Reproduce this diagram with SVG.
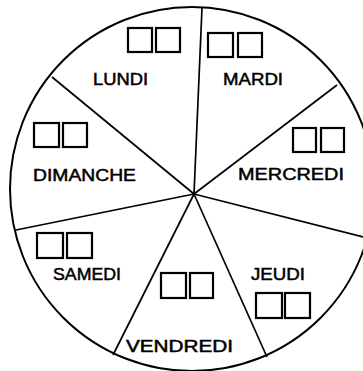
<svg xmlns="http://www.w3.org/2000/svg" width="363" height="371" viewBox="0 0 363 371">
<style>
.rim{fill:none;stroke:#000;stroke-width:2}
.spoke{stroke:#000;stroke-width:1.7;fill:none}
.box{fill:none;stroke:#000;stroke-width:2.2}
.lbl{font-family:"Liberation Sans","DejaVu Sans",sans-serif;font-size:17px;fill:#000;stroke:#000;stroke-width:0.5}
</style>
<rect width="363" height="371" fill="#fff"/>
<g id="connectors">
<circle class="rim" cx="192" cy="189" r="182"/>
<line class="spoke" x1="194" y1="194" x2="202" y2="8"/>
<line class="spoke" x1="194" y1="194" x2="52" y2="77"/>
<line class="spoke" x1="194" y1="194" x2="337" y2="85"/>
<line class="spoke" x1="194" y1="194" x2="363" y2="237"/>
<line class="spoke" x1="194" y1="194" x2="267" y2="357"/>
<line class="spoke" x1="194" y1="194" x2="113" y2="355"/>
<line class="spoke" x1="194" y1="194" x2="16" y2="230"/>
</g>
<g id="lundi">
<rect class="box" x="128" y="28" width="24" height="24"/>
<rect class="box" x="156" y="28" width="24" height="24"/>
<text class="lbl" x="93" y="85" textLength="55" lengthAdjust="spacingAndGlyphs">LUNDI</text>
</g>
<g id="mardi">
<rect class="box" x="208" y="33" width="25" height="24"/>
<rect class="box" x="238" y="33" width="24" height="24"/>
<text class="lbl" x="223" y="85" textLength="60" lengthAdjust="spacingAndGlyphs">MARDI</text>
</g>
<g id="mercredi">
<rect class="box" x="293" y="128" width="23" height="24"/>
<rect class="box" x="321" y="128" width="23" height="24"/>
<text class="lbl" x="238" y="180" textLength="106" lengthAdjust="spacingAndGlyphs">MERCREDI</text>
</g>
<g id="jeudi">
<rect class="box" x="256" y="293" width="26" height="25"/>
<rect class="box" x="285" y="293" width="25" height="25"/>
<text class="lbl" x="251" y="280" textLength="54" lengthAdjust="spacingAndGlyphs">JEUDI</text>
</g>
<g id="vendredi">
<rect class="box" x="161" y="273" width="25" height="25"/>
<rect class="box" x="190" y="273" width="23" height="25"/>
<text class="lbl" x="126" y="352" textLength="107" lengthAdjust="spacingAndGlyphs">VENDREDI</text>
</g>
<g id="samedi">
<rect class="box" x="37" y="233" width="26" height="25"/>
<rect class="box" x="67" y="233" width="25" height="25"/>
<text class="lbl" x="53" y="280" textLength="68" lengthAdjust="spacingAndGlyphs">SAMEDI</text>
</g>
<g id="dimanche">
<rect class="box" x="34" y="123" width="25" height="24"/>
<rect class="box" x="63" y="123" width="24" height="24"/>
<text class="lbl" x="33" y="181" textLength="103" lengthAdjust="spacingAndGlyphs">DIMANCHE</text>
</g>
</svg>
